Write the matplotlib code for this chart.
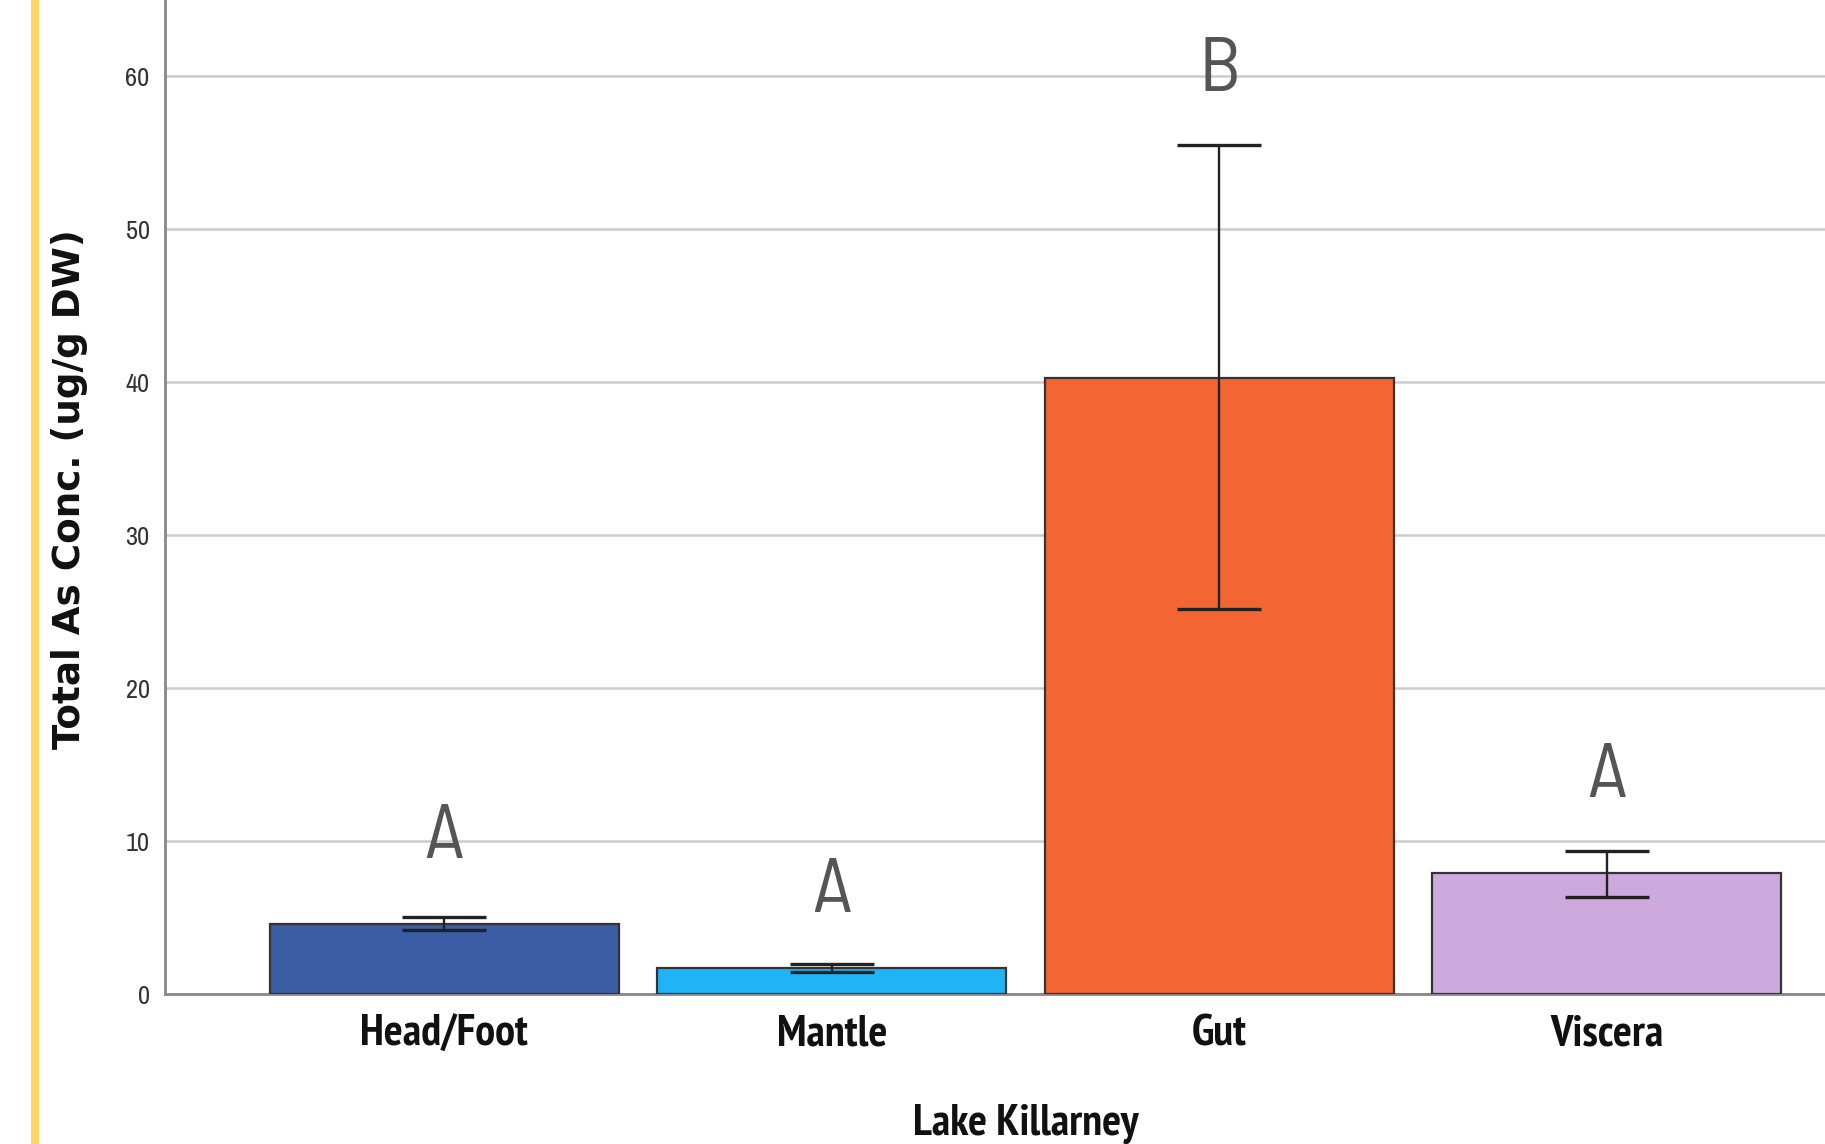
import matplotlib
matplotlib.use("Agg")
import matplotlib.pyplot as plt
from matplotlib.patches import Rectangle

# values
tissues = ["Head/Foot", "Mantle", "Gut", "Viscera"]
means = [4.6, 1.7, 40.3, 7.9]
err_low = [4.2, 1.45, 25.2, 6.35]
err_high = [5.05, 1.95, 55.5, 9.35]
letters = ["A", "A", "B", "A"]
letter_y = [10.15, 6.6, 60.3, 14.1]
colors = ["#3A5DA5", "#1FB4F6", "#F46534", "#CDAADD"]
yticks = [0, 10, 20, 30, 40, 50, 60]

label_font = ["PT Sans Narrow", "Roboto Condensed", "DejaVu Sans"]
tick_font = ["Archivo Narrow", "PT Sans Narrow", "DejaVu Sans"]
letter_font = ["Barlow Semi Condensed", "Roboto Condensed", "DejaVu Sans"]
ylab_font = ["DejaVu Sans"]

fig = plt.figure(figsize=(18.25, 11.44), dpi=100)
fig.patch.set_facecolor("white")

# yellow strip on the left
fig.patches.append(Rectangle((31 / 1825, 0), 8 / 1825, 1, transform=fig.transFigure,
                             facecolor="#FDD661", edgecolor="none"))

ax = fig.add_axes([165 / 1825, 150 / 1144, 1721 / 1825, 994 / 1144])

x = list(range(len(tissues)))
ax.bar(x, means, width=0.9, color=colors, edgecolor="#333333", linewidth=1.6, zorder=2)

lower = [m - lo for m, lo in zip(means, err_low)]
upper = [hi - m for m, hi in zip(means, err_high)]
ax.errorbar(x, means, yerr=[lower, upper], fmt="none", ecolor="#222222",
            elinewidth=1.7, capsize=30, capthick=2.4, zorder=3)

for xi, lab, ly in zip(x, letters, letter_y):
    ax.text(xi, ly, lab, ha="center", va="center", fontsize=56, color="#555555",
            family=letter_font, zorder=4)

ax.set_xlim(-0.721, 3.721)
ax.set_ylim(0, 65)
ax.set_yticks(yticks)
ax.yaxis.grid(True, color="#CCCCCC", linewidth=1.8, zorder=0)
ax.set_axisbelow(True)

for s in ["top", "right"]:
    ax.spines[s].set_visible(False)
for s in ["left", "bottom"]:
    ax.spines[s].set_color("#888888")
    ax.spines[s].set_linewidth(2)
    ax.spines[s].set_zorder(1)

ax.set_xticks(x)
ax.set_xticklabels(tissues, family=label_font, fontweight="bold", fontsize=32, color="#111111")
ax.tick_params(axis="x", length=0, pad=15)
ax.tick_params(axis="y", length=0, pad=11, labelsize=19, labelcolor="#333333")
for t in ax.get_yticklabels():
    t.set_family(tick_font)

ax.set_xlabel("Lake Killarney", family=label_font, fontweight="bold", fontsize=32, color="#111111")
ax.xaxis.set_label_coords(0.5, -0.1107)
ax.set_ylabel("Total As Conc. (ug/g DW)", family=ylab_font, fontweight="bold",
              fontsize=26.8, color="#111111")
ax.yaxis.set_label_coords(-0.045, 0.508)

fig.savefig("out.png", dpi=100)
